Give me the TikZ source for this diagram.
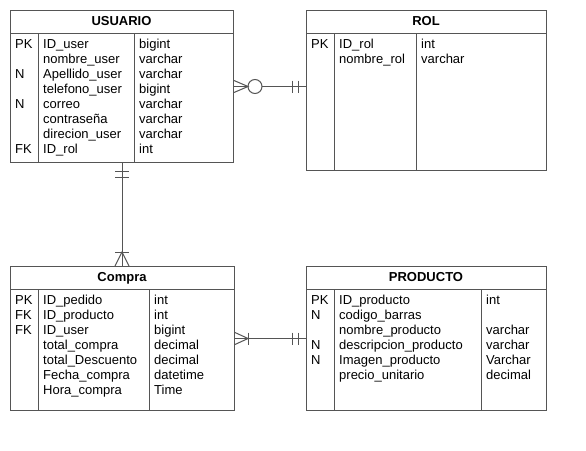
\documentclass[tikz,border=0pt]{standalone}
\usepackage{fontspec}
\setmainfont{Liberation Sans}
\usetikzlibrary{calc}
\definecolor{lc}{RGB}{85,85,85}
\newcommand{\rs}{\strut}
\begin{document}
\begin{tikzpicture}[x=1pt,y=-1pt,
  ent/.style={draw=lc, line width=1pt, inner sep=0pt, anchor=north west, fill=white},
  ttl/.style={anchor=base, inner sep=0pt, font=\fontsize{13}{15}\selectfont\bfseries},
  col/.style={anchor=north west, inner sep=0pt, align=left, font=\fontsize{13}{15}\selectfont},
  ln/.style={draw=lc, line width=1pt},
  rel/.style={draw=lc, line width=1pt}]
\useasboundingbox (0,0) rectangle (586,450);
\fill[white] (0,0) rectangle (586,450);

% ---------- USUARIO ----------
\node[ent, minimum width=223pt, minimum height=152pt] (usuario) at (10,10) {};
\draw[ln] (10,33) -- (233,33) (38,33) -- (38,162) (134,33) -- (134,162);
\node[ttl] (usuario-t) at (121.5,25.5) {USUARIO};
\node[col] (usuario-k) at (15,38) {\rs PK\\\rs \\\rs N\\\rs \\\rs N\\\rs \\\rs \\\rs FK};
\node[col] (usuario-n) at (43,38) {\rs ID\_user\\\rs nombre\_user\\\rs Apellido\_user\\\rs telefono\_user\\\rs correo\\\rs contraseña\\\rs direcion\_user\\\rs ID\_rol};
\node[col] (usuario-y) at (139,38) {\rs bigint\\\rs varchar\\\rs varchar\\\rs bigint\\\rs varchar\\\rs varchar\\\rs varchar\\\rs int};

% ---------- ROL ----------
\node[ent, minimum width=240pt, minimum height=160pt] (rol) at (306,10) {};
\draw[ln] (306,33) -- (546,33) (334,33) -- (334,170) (416,33) -- (416,170);
\node[ttl] (rol-t) at (426,25.5) {ROL};
\node[col] (rol-k) at (311,38) {\rs PK};
\node[col] (rol-n) at (339,38) {\rs ID\_rol\\\rs nombre\_rol};
\node[col] (rol-y) at (421,38) {\rs int\\\rs varchar};

% ---------- Compra ----------
\node[ent, minimum width=224pt, minimum height=144pt] (compra) at (10,266) {};
\draw[ln] (10,289) -- (234,289) (38,289) -- (38,410) (149,289) -- (149,410);
\node[ttl] (compra-t) at (122,281.5) {Compra};
\node[col] (compra-k) at (15,294) {\rs PK\\\rs FK\\\rs FK};
\node[col] (compra-n) at (43,294) {\rs ID\_pedido\\\rs ID\_producto\\\rs ID\_user\\\rs total\_compra\\\rs total\_Descuento\\\rs Fecha\_compra\\\rs Hora\_compra};
\node[col] (compra-y) at (154,294) {\rs int\\\rs int\\\rs bigint\\\rs decimal\\\rs decimal\\\rs datetime\\\rs Time};

% ---------- PRODUCTO ----------
\node[ent, minimum width=240pt, minimum height=144pt] (producto) at (306,266) {};
\draw[ln] (306,289) -- (546,289) (334,289) -- (334,410) (481,289) -- (481,410);
\node[ttl] (producto-t) at (426,281.5) {PRODUCTO};
\node[col] (producto-k) at (311,294) {\rs PK\\\rs N\\\rs \\\rs N\\\rs N};
\node[col] (producto-n) at (339,294) {\rs ID\_producto\\\rs codigo\_barras\\\rs nombre\_producto\\\rs descripcion\_producto\\\rs Imagen\_producto\\\rs precio\_unitario};
\node[col] (producto-y) at (486,294) {\rs int\\\rs \\\rs varchar\\\rs varchar\\\rs Varchar\\\rs decimal};

% ---------- USUARIO -- ROL (zero-or-many to one) ----------
\coordinate (r1a) at (usuario.east);
\coordinate (r1b) at (usuario.east -| rol.west);
\draw[rel] (r1a) -- ($(r1a)+(14,0)$);
\draw[rel] ($(r1a)+(0,-6)$) -- ($(r1a)+(14,0)$) -- ($(r1a)+(0,6)$);
\draw[rel] ($(r1a)+(21,0)$) circle (7);
\draw[rel] ($(r1a)+(28,0)$) -- (r1b);
\draw[rel] ($(r1b)+(-14,-6)$) -- ($(r1b)+(-14,6)$);
\draw[rel] ($(r1b)+(-8,-6)$) -- ($(r1b)+(-8,6)$);

% ---------- USUARIO -- Compra (one to many) ----------
\coordinate (r2a) at (usuario.south);
\coordinate (r2b) at (usuario.south |- compra.north);
\draw[rel] (r2a) -- (r2b);
\draw[rel] ($(r2a)+(-7,8)$) -- ($(r2a)+(7,8)$);
\draw[rel] ($(r2a)+(-7,14)$) -- ($(r2a)+(7,14)$);
\draw[rel] ($(r2b)+(-7,-14)$) -- ($(r2b)+(7,-14)$);
\draw[rel] ($(r2b)+(-7,0)$) -- ($(r2b)+(0,-14)$) -- ($(r2b)+(7,0)$);

% ---------- Compra -- PRODUCTO (one-or-many to one) ----------
\coordinate (r3a) at (compra.east);
\coordinate (r3b) at (producto.west);
\draw[rel] (r3a) -- (r3b);
\draw[rel] ($(r3a)+(0,-6)$) -- ($(r3a)+(13,0)$) -- ($(r3a)+(0,6)$);
\draw[rel] ($(r3a)+(13,-6)$) -- ($(r3a)+(13,6)$);
\draw[rel] ($(r3b)+(-14,-6)$) -- ($(r3b)+(-14,6)$);
\draw[rel] ($(r3b)+(-8,-6)$) -- ($(r3b)+(-8,6)$);
\end{tikzpicture}
\end{document}
